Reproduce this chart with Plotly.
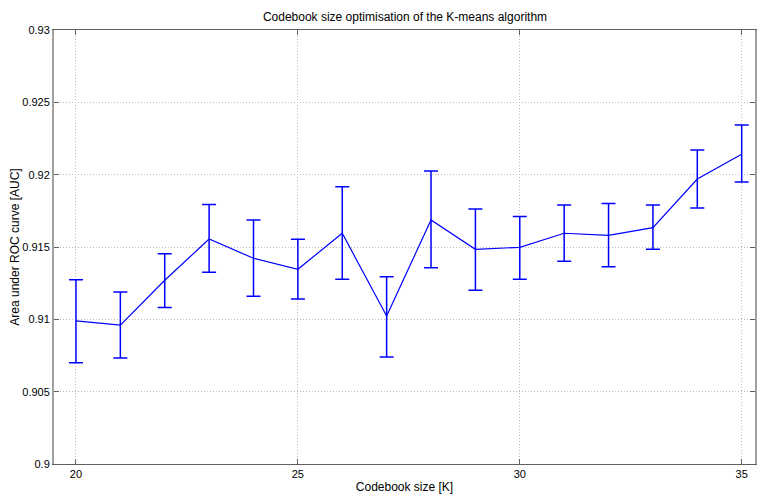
import plotly.graph_objects as go

codebook_size = [20, 21, 22, 23, 24, 25, 26, 27, 28, 29, 30, 31, 32, 33, 34, 35]
auc_mean = [0.9099, 0.9096, 0.9127, 0.91555, 0.91422, 0.91346, 0.91595, 0.91023,
            0.91687, 0.91484, 0.91498, 0.91595, 0.91581, 0.91634, 0.9197, 0.92141]
auc_upper = [0.91274, 0.91189, 0.91454, 0.91793, 0.91687, 0.91553, 0.91917, 0.91295,
             0.92025, 0.91763, 0.9171, 0.9179, 0.918, 0.9179, 0.92171, 0.92343]
auc_lower = [0.9070, 0.90733, 0.91081, 0.91325, 0.91159, 0.91141, 0.91277, 0.9074,
             0.91357, 0.91201, 0.91277, 0.91401, 0.91364, 0.91484, 0.9177, 0.91949]

err_plus = [u - m for u, m in zip(auc_upper, auc_mean)]
err_minus = [m - l for m, l in zip(auc_mean, auc_lower)]

fig = go.Figure()
fig.add_trace(go.Scatter(
    x=codebook_size, y=auc_mean, mode="lines",
    line=dict(color="#0000ff", width=1.2),
    error_y=dict(type="data", symmetric=False, array=err_plus, arrayminus=err_minus,
                 color="#0000ff", thickness=1.5, width=7),
    showlegend=False,
))

font = "Liberation Sans, Arial, Helvetica, sans-serif"
fig.update_layout(
    width=757, height=494,
    margin=dict(l=54, r=0, t=30, b=30),
    plot_bgcolor="white", paper_bgcolor="white",
    font=dict(family=font, size=11, color="black"),
    title=dict(text="Codebook size optimisation of the K-means algorithm",
               x=0.535, xanchor="center", y=0.965, yanchor="middle",
               font=dict(size=12, family=font, color="black")),
)
fig.update_xaxes(
    range=[19.505, 35.3], tickvals=[20, 25, 30, 35],
    showgrid=True, gridcolor="#bcbcbc", griddash="1px,2px", gridwidth=1,
    showline=True, linecolor="#606060", linewidth=1, mirror="ticks",
    ticks="inside", ticklen=5, tickcolor="#606060",
    zeroline=False,
    title=dict(text="Codebook size [K]", standoff=4, font=dict(size=12)),
)
fig.update_yaxes(
    range=[0.9, 0.93], tickvals=[0.9, 0.905, 0.91, 0.915, 0.92, 0.925, 0.93],
    ticktext=["0.9", "0.905", "0.91", "0.915", "0.92", "0.925", "0.93"],
    showgrid=True, gridcolor="#bcbcbc", griddash="1px,2px", gridwidth=1,
    showline=True, linecolor="#a0a0a0", linewidth=2, mirror="ticks",
    ticks="inside", ticklen=5, tickcolor="#606060",
    zeroline=False,
    title=dict(text="Area under ROC curve [AUC]", standoff=0, font=dict(size=12)),
)

fig.write_html("out.html")
